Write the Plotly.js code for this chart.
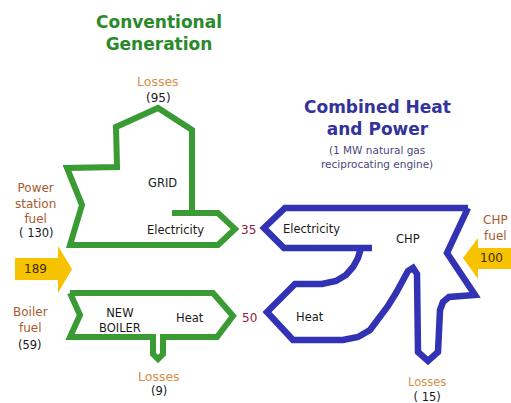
<!DOCTYPE html>
<html>
<head>
<meta charset="utf-8">
<script src="https://cdn.plot.ly/plotly-3.0.1.min.js"></script>
<style>html,body{margin:0;padding:0;background:#fff;}#chart{width:511px;height:403px;}</style>
</head>
<body>
<div id="chart"></div>
<script>
// ---- values ----
const powerStationFuel = [130];
const boilerFuel = [59];
const conventionalTotal = [189];
const chpFuel = [100];
const lossValues = [95, 9, 15];           // grid, boiler, CHP
const outputLabels = ['Electricity', 'Heat'];
const outputValues = [35, 50];
const titles = ['Conventional<br>Generation', 'Combined Heat<br>and Power'];
const subtitle = ['(1 MW natural gas<br>reciprocating engine)'];

// ---- diagram geometry (page pixel space) ----
const gridOutline = [[172,213],[218,213],[235,229],[218,245],[70,245],[82,205],[67,168],[117,167],[116,127],[158,108],[192,130],[192,213]];
const boilerOutline = [[70,293],[213,293],[233,316],[217,337],[163,337],[163,354],[158,359],[153,354],[153,337],[70,337],[80,315],[70,293]];
const chpOutline = [[468,208],[285,208],[264,228],[284,248],[372,248],[361,248],[358,258],[353,267],[346,275],[336,281],[322,284],[295,284],[267,312],[293,340],[343,340],[358,337],[370,330],[380,318],[388,306],[396,293],[403,281],[408,271],[413,268],[417,274],[418,352],[428,361],[438,352],[440,310],[443,302],[449,297],[475,295],[447,253],[468,208]];
const leftArrow = [[15,258],[58,258],[58,246],[72,269],[58,293],[58,280],[15,280],[15,258]];
const rightArrow = [[511,248],[478,248],[478,238],[463,258],[478,279],[478,269],[511,269],[511,248]];

function tr(pts, color, fill, w) {
  return {
    type: 'scatter', mode: 'lines', hoverinfo: 'skip', showlegend: false,
    x: pts.map(p => p[0]), y: pts.map(p => p[1]),
    line: {color: color, width: fill ? 0 : w},
    fill: fill ? 'toself' : 'none', fillcolor: fill ? color : undefined
  };
}
const GREEN = '#3a9a34', BLUE = '#3232b4', YELLOW = '#f7c200';
const data = [
  tr(leftArrow, YELLOW, true), tr(rightArrow, YELLOW, true),
  tr(gridOutline, GREEN, false, 6), tr(boilerOutline, GREEN, false, 6), tr(chpOutline, BLUE, false, 6.5)
];

const SANS = 'DejaVu Sans';
const BROWN = '#a85a30', TAN = '#d4904a', MAROON = '#8a2040', INK = '#1a1a1a';
function t(x, y, text, size, color, bold) {
  return {x: x, y: y, xref: 'x', yref: 'y', text: bold ? '<b>' + text + '</b>' : text, showarrow: false,
    font: {family: SANS, size: size, color: color}, xanchor: 'center', yanchor: 'middle', align: 'center'};
}
const ann = [
  t(159, 33, titles[0], 17, '#2a8a2a', true),
  t(377, 118, titles[1], 17, '#33339a', true),
  t(377, 157, subtitle[0], 10.5, '#4a4a7a'),
  t(158, 81, 'Losses', 12.5, TAN),
  t(158, 98, '(' + lossValues[0] + ')', 12, INK),
  t(162, 183, 'GRID', 11.5, INK),
  t(35, 203, 'Power<br>station<br>fuel', 12, BROWN),
  t(36, 233, '( ' + powerStationFuel[0] + ')', 11.5, INK),
  t(175, 230, outputLabels[0], 11.5, INK),
  t(248, 230, String(outputValues[0]), 12, MAROON),
  t(35, 269, String(conventionalTotal[0]), 12, '#3a2a00'),
  t(30, 320, 'Boiler<br>fuel', 12, BROWN),
  t(30, 345, '(' + boilerFuel[0] + ')', 11.5, INK),
  t(120, 320, 'NEW<br>BOILER', 11.5, INK),
  t(190, 318, outputLabels[1], 11.5, INK),
  t(249, 318, String(outputValues[1]), 12, MAROON),
  t(159, 376, 'Losses', 12.5, TAN),
  t(159, 391, '(' + lossValues[1] + ')', 11.5, INK),
  t(311, 229, outputLabels[0], 11.5, INK),
  t(408, 239, 'CHP', 11.5, INK),
  t(310, 317, outputLabels[1], 11.5, INK),
  t(495, 228, 'CHP<br>fuel', 12, BROWN),
  t(491, 258, String(chpFuel[0]), 12, '#3a2a00'),
  t(427, 389, 'Losses<br><span style="color:' + INK + '">( ' + lossValues[2] + ')</span>', 11.5, TAN)
];

const layout = {
  width: 511, height: 403, margin: {l: 0, r: 0, t: 0, b: 0},
  paper_bgcolor: '#ffffff', plot_bgcolor: '#ffffff',
  xaxis: {range: [0, 511], visible: false, fixedrange: true},
  yaxis: {range: [403, 0], visible: false, fixedrange: true},
  annotations: ann, showlegend: false
};
Plotly.newPlot('chart', data, layout, {staticPlot: true, displayModeBar: false});
</script>
</body>
</html>
